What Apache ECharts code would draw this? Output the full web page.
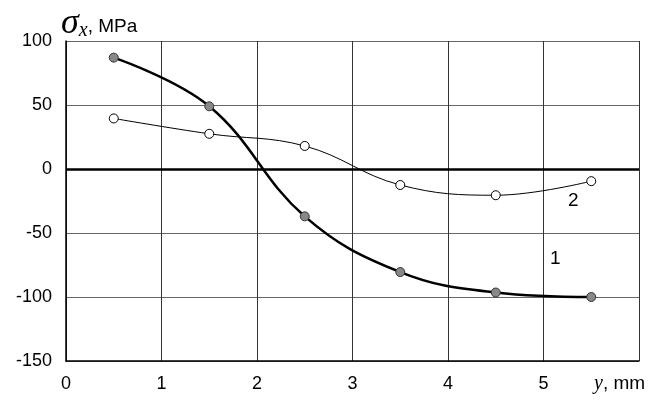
<!DOCTYPE html>
<html><head><meta charset="utf-8">
<script src="https://cdn.jsdelivr.net/npm/echarts@6/dist/echarts.min.js"></script>
<style>html,body{margin:0;padding:0;background:#fff}#c{width:656px;height:403px}</style>
</head><body><div id="c"></div>
<script>
var xValues = [0.5, 1.5, 2.5, 3.5, 4.5, 5.5];
var series1 = [87, 49, -37, -80.5, -96.5, -100];
var series2 = [39.5, 27.5, 18, -12.5, -20.5, -9.5];
var yTicks = [-150, -100, -50, 0, 50, 100];
var xTicks = [0, 1, 2, 3, 4, 5];

var chart = echarts.init(document.getElementById('c'));
var font = 'Liberation Sans, Arial, sans-serif';
var serif = 'Liberation Serif, Times New Roman, serif';
chart.setOption({
  animation: false,
  grid: {left: 66, right: 17, top: 41, bottom: 42},
  xAxis: {
    type: 'value', min: 0, max: 6, interval: 1,
    axisLine: {show: true, onZero: false, lineStyle: {color: '#000', width: 1.5}},
    axisTick: {show: false},
    splitLine: {show: true, lineStyle: {color: '#333', width: 1}},
    axisLabel: {color: '#000', fontFamily: font, fontSize: 18, margin: 14,
      formatter: function (v) { return xTicks.indexOf(v) >= 0 ? String(v) : ''; }}
  },
  yAxis: {
    type: 'value', min: -150, max: 100, interval: 50,
    axisLine: {show: true, onZero: false, lineStyle: {color: '#000', width: 1.5}},
    axisTick: {show: false},
    splitLine: {show: true, lineStyle: {color: '#666', width: 1}},
    axisLabel: {color: '#000', fontFamily: font, fontSize: 18, margin: 14,
      formatter: function (v) { return yTicks.indexOf(v) >= 0 ? String(v) : ''; }}
  },
  series: [
    {
      type: 'line', smooth: 0.4, z: 3,
      data: xValues.map(function (x, i) { return [x, series1[i]]; }),
      symbol: 'circle', symbolSize: 9,
      lineStyle: {color: '#000', width: 2.5},
      itemStyle: {color: '#888', borderColor: '#333', borderWidth: 1},
      markLine: {silent: true, symbol: 'none', label: {show: false},
        lineStyle: {color: '#000', width: 2.5, type: 'solid'},
        data: [{yAxis: 0}]}
    },
    {
      type: 'line', smooth: 0.4, z: 3,
      data: xValues.map(function (x, i) { return [x, series2[i]]; }),
      symbol: 'circle', symbolSize: 9,
      lineStyle: {color: '#000', width: 1},
      itemStyle: {color: '#fff', borderColor: '#000', borderWidth: 1}
    }
  ],
  graphic: [
    {type: 'text', left: 61, top: 6, style: {
      text: '{s|σ}{x|x}{m|, MPa}',
      rich: {
        s: {fontFamily: serif, fontStyle: 'italic', fontSize: 36, fill: '#000'},
        x: {fontFamily: serif, fontStyle: 'italic', fontSize: 20, fill: '#000', padding: [14, 0, 0, 0]},
        m: {fontFamily: font, fontSize: 19, fill: '#000', padding: [6, 0, 0, 0]}
      }}},
    {type: 'text', left: 594, top: 374, style: {
      text: '{y|y}{m|, mm}',
      rich: {
        y: {fontFamily: serif, fontStyle: 'italic', fontSize: 20, fill: '#000'},
        m: {fontFamily: font, fontSize: 19, fill: '#000'}
      }}},
    {type: 'text', left: 568, top: 191, style: {text: '2', font: '19px Liberation Sans, Arial', fill: '#000'}},
    {type: 'text', left: 550, top: 249, style: {text: '1', font: '19px Liberation Sans, Arial', fill: '#000'}}
  ]
});
</script></body></html>
